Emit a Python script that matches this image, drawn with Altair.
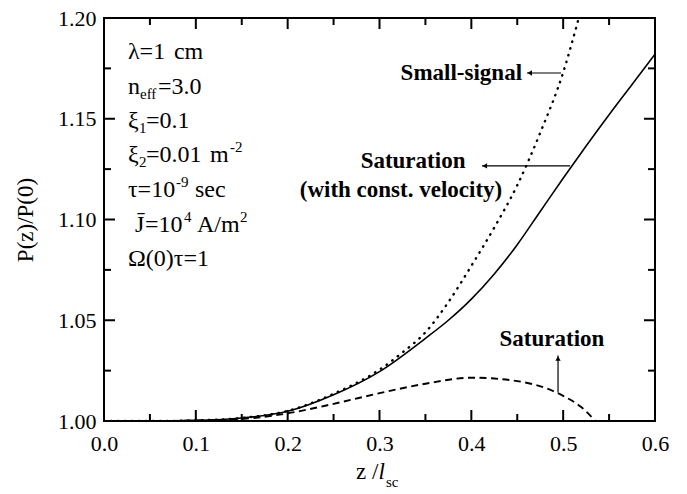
import altair as alt
import pandas as pd

# ---------------- data ----------------
z_small = [0.0, 0.05, 0.1, 0.15, 0.2, 0.25, 0.3, 0.325, 0.35, 0.375, 0.4, 0.425, 0.45, 0.475, 0.5, 0.517]
p_small = [1.0, 1.0, 1.0003, 1.0015, 1.005, 1.0135, 1.0255, 1.034, 1.044, 1.059, 1.077, 1.096, 1.117, 1.143, 1.173, 1.2]

z_const = [0.0, 0.05, 0.1, 0.15, 0.2, 0.25, 0.3, 0.35, 0.375, 0.4, 0.425, 0.45, 0.475, 0.5, 0.525, 0.55, 0.575, 0.6]
p_const = [1.0, 1.0, 1.0003, 1.0015, 1.0048, 1.013, 1.0245, 1.041, 1.050, 1.0605, 1.073, 1.0875, 1.104, 1.1205, 1.1365, 1.152, 1.167, 1.182]

z_sat = [0.0, 0.05, 0.1, 0.15, 0.2, 0.25, 0.3, 0.35, 0.4, 0.45, 0.5, 0.52, 0.535]
p_sat = [1.0, 1.0, 1.0002, 1.001, 1.0038, 1.0085, 1.0138, 1.0185, 1.0215, 1.0198, 1.0125, 1.0068, 1.0]

x_labels = [0.0, 0.1, 0.2, 0.3, 0.4, 0.5, 0.6]
y_labels = [1.00, 1.05, 1.10, 1.15, 1.20]
x_major_ticks = [0.1, 0.2, 0.3, 0.4, 0.5]
x_minor_ticks = [0.05, 0.15, 0.25, 0.35, 0.45, 0.55]
y_major_ticks = [1.05, 1.10, 1.15]
y_minor_ticks = [1.025, 1.075, 1.125, 1.175]

# ---------------- styling ----------------
FONT = "'Liberation Serif', 'Times New Roman', Times, serif"
W, H = 551, 403
MAJ, MIN = 11, 7

xs = alt.Scale(domain=[0, 0.6], nice=False, zero=False)
ys = alt.Scale(domain=[1.0, 1.2], nice=False, zero=False)

XAX = alt.Axis(values=x_labels, format=".1f", title=None, ticks=False, domain=False,
               grid=False, labelFont=FONT, labelFontSize=22, labelColor="black",
               labelPadding=12, labelFlush=False, labelOverlap=False)
YAX = alt.Axis(values=y_labels, format=".2f", title="P(z)/P(0)", ticks=False,
               domain=False, grid=False, labelFont=FONT, labelFontSize=22,
               labelColor="black", labelPadding=8, labelFlush=False,
               labelOverlap=False, titleFont=FONT, titleFontSize=23,
               titleFontWeight="normal", titleColor="black", titleAngle=270,
               titleX=-79, titleY=H / 2, titleAlign="center", titleBaseline="middle")


def X(field="z"):
    return alt.X(f"{field}:Q", scale=xs, axis=XAX)


def Y(field="p"):
    return alt.Y(f"{field}:Q", scale=ys, axis=YAX)


def line_layer(z, p, **kw):
    df = pd.DataFrame({"z": z, "p": p})
    return alt.Chart(df).mark_line(clip=True, color="black", interpolate="monotone", **kw).encode(
        x=X(), y=Y())


solid = line_layer(z_const, p_const, strokeWidth=1.6)
dotted = line_layer(z_small, p_small, strokeWidth=2.4, strokeDash=[0.5, 6.5], strokeCap="round")
dashed = line_layer(z_sat, p_sat, strokeWidth=1.9, strokeDash=[7, 4.5])


# inward ticks on all four sides
def xticks(vals, length):
    df = pd.DataFrame({"z": vals})
    b = alt.Chart(df).mark_rule(color="black", strokeWidth=2).encode(
        x=X(), y=alt.value(H), y2=alt.value(H - length))
    t = alt.Chart(df).mark_rule(color="black", strokeWidth=2).encode(
        x=X(), y=alt.value(0), y2=alt.value(length))
    return [b, t]


def yticks(vals, length):
    df = pd.DataFrame({"p": vals})
    l = alt.Chart(df).mark_rule(color="black", strokeWidth=2).encode(
        y=Y(), x=alt.value(0), x2=alt.value(length))
    r = alt.Chart(df).mark_rule(color="black", strokeWidth=2).encode(
        y=Y(), x=alt.value(W), x2=alt.value(W - length))
    return [l, r]


tick_layers = (xticks(x_major_ticks, MAJ) + xticks(x_minor_ticks, MIN)
               + yticks(y_major_ticks, MAJ) + yticks(y_minor_ticks, MIN))


def txt(text, z, p, size=24, dx=0, dy=0, weight="normal", align="left",
        baseline="alphabetic", style="normal"):
    df = pd.DataFrame({"z": [z], "p": [p], "t": [text]})
    return alt.Chart(df).mark_text(
        font=FONT, fontSize=size, fontWeight=weight, fontStyle=style, align=align,
        baseline=baseline, dx=dx, dy=dy, color="black",
    ).encode(x=X(), y=Y(), text="t:N")


# parameter box
Z0 = 0.0261
rows = [1.1797, 1.1625, 1.1454, 1.1283, 1.1112, 1.0940, 1.0769]
S = 15
box = [
    txt("λ=1", Z0, rows[0]), txt("cm", Z0, rows[0], dx=46),
    txt("n", Z0, rows[1]), txt("eff", Z0, rows[1], size=S, dx=12, dy=5),
    txt("=3.0", Z0, rows[1], dx=30),
    txt("ξ", Z0, rows[2]), txt("1", Z0, rows[2], size=S, dx=11, dy=5),
    txt("=0.1", Z0, rows[2], dx=18),
    txt("ξ", Z0, rows[3]), txt("2", Z0, rows[3], size=S, dx=11, dy=5),
    txt("=0.01", Z0, rows[3], dx=18), txt("m", Z0, rows[3], dx=82),
    txt("-2", Z0, rows[3], size=S, dx=102, dy=-10),
    txt("τ=10", Z0, rows[4]), txt("-9", Z0, rows[4], size=S, dx=48, dy=-10),
    txt("sec", Z0, rows[4], dx=67),
    txt("J\u0304", Z0, rows[5], dx=7), txt("=10", Z0, rows[5], dx=17),
    txt("4", Z0, rows[5], size=S, dx=56, dy=-10),
    txt("A/m", Z0, rows[5], dx=69), txt("2", Z0, rows[5], size=S, dx=112, dy=-10),
    txt("Ω(0)τ=1", Z0, rows[6]),
]

# curve labels
labels = [
    txt("Small-signal", 0.4552, 1.1727, size=23, weight="bold", align="right",
        baseline="middle"),
    txt("Saturation", 0.3365, 1.1290, size=23, weight="bold", align="center",
        baseline="middle"),
    txt("(with const. velocity)", 0.3234, 1.1146, size=23, weight="bold", align="center",
        baseline="middle"),
    txt("Saturation", 0.4878, 1.0407, size=23, weight="bold", align="center",
        baseline="middle"),
]


def hrule(z1, z2, p):
    df = pd.DataFrame({"z": [z1], "z2": [z2], "p": [p]})
    return alt.Chart(df).mark_rule(color="black", strokeWidth=1.2).encode(
        x=X(), x2="z2:Q", y=Y())


def vrule(z, p1, p2):
    df = pd.DataFrame({"z": [z], "p": [p1], "p2": [p2]})
    return alt.Chart(df).mark_rule(color="black", strokeWidth=1.2).encode(
        x=X(), y=Y(), y2="p2:Q")


def head(z, p, shape):
    df = pd.DataFrame({"z": [z], "p": [p]})
    return alt.Chart(df).mark_point(shape=shape, filled=True, size=28, color="black",
                                    opacity=1).encode(x=X(), y=Y())


arrows = [
    hrule(0.4606, 0.4977, 1.1727), head(0.4636, 1.1727, "triangle-left"),
    hrule(0.4116, 0.5075, 1.1266), head(0.4146, 1.1266, "triangle-left"),
    vrule(0.4944, 1.0141, 1.0325), head(0.4944, 1.0310, "triangle-up"),
]


# x-axis title  z / l_sc  (pieces positioned in pixels below the plot)
def title_piece(text, x, y, size=23, style="normal"):
    df = pd.DataFrame({"t": [text]})
    return alt.Chart(df).mark_text(font=FONT, fontSize=size, fontStyle=style, align="left",
                                   baseline="alphabetic", color="black").encode(
        x=alt.value(x), y=alt.value(y), text="t:N")


xtitle = [
    title_piece("z /", 252, 461),
    title_piece("l", 274.5, 461, style="italic"),
    title_piece("sc", 282, 469, size=15),
]

chart = alt.layer(solid, dotted, dashed, *tick_layers, *box, *labels, *arrows, *xtitle).properties(
    width=W, height=H,
    autosize=alt.AutoSizeParams(type="none"),
    padding={"left": 104, "top": 18, "right": 32, "bottom": 73},
    background="white",
).configure_view(stroke="black", strokeWidth=2)

chart.save("out.html", embed_options={"renderer": "svg", "actions": False})
